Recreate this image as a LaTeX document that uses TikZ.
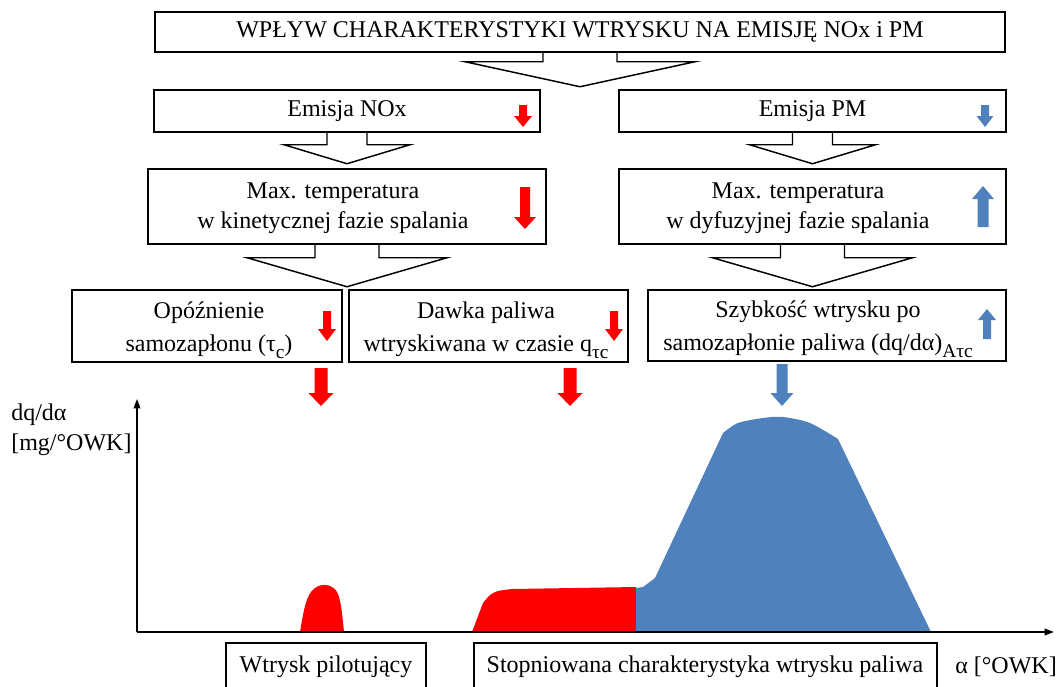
\documentclass[tikz,border=0pt]{standalone}
\usepackage{fontspec}
\setmainfont{Liberation Serif}
\usetikzlibrary{calc,arrows.meta}
\definecolor{myred}{RGB}{255,0,0}
\definecolor{myblue}{RGB}{79,129,189}
\newcommand{\mysub}[1]{\raisebox{-0.28em}{\fontsize{14.5}{14.5}\selectfont #1}}
% colored block arrow: x, y start (tail), y head base, y tip, shaft half, head half, colour
\newcommand{\colarr}[7]{\fill[#7] (#1-#5,#2) -- (#1+#5,#2) -- (#1+#5,#3) -- (#1+#6,#3) -- (#1,#4) -- (#1-#6,#3) -- (#1-#5,#3) -- cycle;}
% outlined big arrow from a node anchor: anchor, stem half, stem length, wing half, head length
\newcommand{\bigarr}[5]{\draw[blk] (#1) ++(-#2,0) -- ++(0,#3) -- ++(-#4+#2,0) -- ++(#4,#5) -- ++(#4,-#5) -- ++(-#4+#2,0) -- ++(0,-#3);}
\tikzset{
  box/.style={draw, line width=1.1pt, inner sep=0pt, font=\fontsize{18}{22.5}\selectfont},
  txt/.style={inner sep=0pt, align=center, font=\fontsize{18}{22.5}\selectfont},
  txtb/.style={inner sep=0pt, align=center, font=\fontsize{18}{25}\selectfont},
  blk/.style={line width=1.1pt, line join=miter},
  frame/.style={line width=1.1pt},
  axis/.style={line width=1.1pt, -{Triangle[length=7pt,width=5pt]}}
}
\begin{document}
\begin{tikzpicture}[x=0.75pt,y=-0.75pt]
\useasboundingbox (0,0) rectangle (1061,686);
% boxes
\node[box, minimum width=850*0.75pt, minimum height=40*0.75pt] (title) at (580,32) {WPŁYW CHARAKTERYSTYKI WTRYSKU NA EMISJĘ NOx i PM};
\node[box, minimum width=386*0.75pt, minimum height=42*0.75pt] (nox) at (347,111) {Emisja NOx};
\node[box, minimum width=387*0.75pt, minimum height=42*0.75pt] (pm) at (812.5,111) {Emisja PM};
\node[box, minimum width=398*0.75pt, minimum height=75*0.75pt] (tkin) at (347,206.5) {};
\node[box, minimum width=387*0.75pt, minimum height=75*0.75pt] (tdyf) at (812.5,206.5) {};
\node[txt] (tkinT) at (333,208) {Max. temperatura\\w kinetycznej fazie spalania};
\node[txt] (tdyfT) at (798,208) {Max. temperatura\\w dyfuzyjnej fazie spalania};
\node[box, minimum width=270*0.75pt, minimum height=72*0.75pt] (opoz) at (207,326) {};
\node[box, minimum width=279*0.75pt, minimum height=72*0.75pt] (dawka) at (488.5,326) {};
\node[box, minimum width=358*0.75pt, minimum height=71*0.75pt] (szyb) at (827,325.5) {};
\node[txtb] (opozT) at (209,330) {Opóźnienie\\samozapłonu (τ\mysub{c})};
\node[txtb] (dawkaT) at (486,330) {Dawka paliwa\\wtryskiwana w czasie q\mysub{τc}};
\node[txtb] (szybT) at (818,329) {Szybkość wtrysku po\\samozapłonie paliwa (dq/dα)\mysub{Aτc}};
% outlined big arrows
\bigarr{title.south}{37}{9}{115}{25}
\bigarr{nox.south}{20}{12}{63}{19}
\bigarr{pm.south}{20}{12}{63}{19}
\bigarr{tkin.south}{32}{13}{100}{29}
\bigarr{tdyf.south}{32}{13}{100}{29}
% small coloured arrows
\colarr{523}{105}{116}{127}{4}{9}{myred}
\colarr{985}{105}{116}{127}{4}{8.5}{myblue}
\colarr{525}{187}{217}{229}{5}{11}{myred}
\colarr{983}{227}{199}{186}{5.5}{11}{myblue}
\colarr{327}{311}{329}{341}{4}{9}{myred}
\colarr{614}{311}{329}{341}{4}{9}{myred}
\colarr{987}{339}{320}{309}{4}{9}{myblue}
% big coloured arrows
\colarr{321}{368}{393}{406}{6.5}{12.5}{myred}
\colarr{570}{368}{393}{406}{6.5}{12.5}{myred}
\colarr{782}{364}{393}{406}{5.5}{11.5}{myblue}
% chart shapes
\fill[myred] plot[smooth, tension=0.6] coordinates {(300,632) (305,606) (311,592) (320,585.5) (330,586) (337,592) (341,606) (344,632)} -- cycle;
\fill[myred] (472,632) -- plot[smooth, tension=0.5] coordinates {(483,603) (490,595) (498,591) (512,589)} -- (636,587) -- (636,632) -- cycle;
\fill[myblue] (636,632) -- (636,588) -- (643,587) -- (655,578) -- plot[smooth, tension=0.5] coordinates {(723,433) (738,423) (763,418) (783,417) (810,423) (838,439)} -- (931,632) -- cycle;
% axes
\coordinate (o) at (137,632);
\coordinate (ytop) at (137,399);
\coordinate (xend) at (1054,632);
\draw[axis] (o) -- (ytop);
\draw[axis] (o) -- (xend);
\node[txt, align=left, anchor=west] (ylab) at (11,430) {dq/dα\\{[}mg/°OWK{]}};
% bottom labels
\draw[frame] (226,687) -- (226,643) -- (426,643) -- (426,687);
\draw[frame] (474,687) -- (474,643) -- (937,643) -- (937,687);
\node[txt] (pilot) at (326,667) {Wtrysk pilotujący};
\node[txt] (stop) at (705,667) {Stopniowana charakterystyka wtrysku paliwa};
\node[txt, anchor=west] (xlab) at (955,667) {α [°OWK]};
\end{tikzpicture}
\end{document}
